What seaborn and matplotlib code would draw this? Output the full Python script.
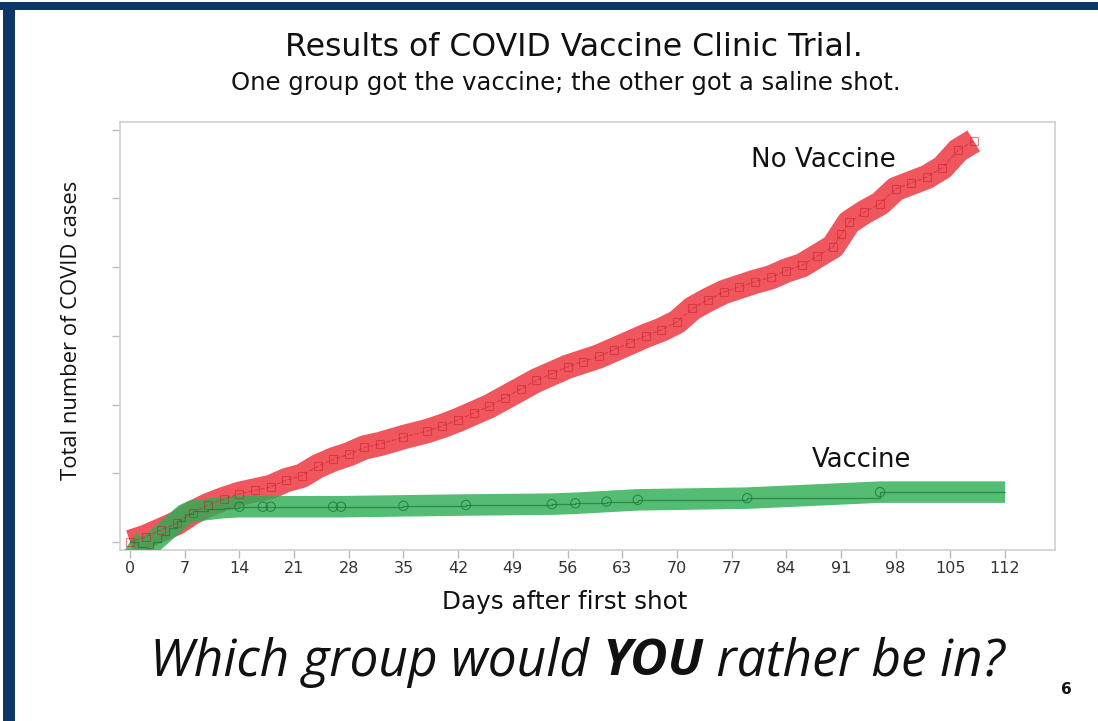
import matplotlib
matplotlib.use("Agg")
import matplotlib.pyplot as plt
import seaborn as sns
import numpy as np
import pandas as pd
from matplotlib.patches import Rectangle

# ---------------- data ----------------
no_vax_days = [0, 2, 4, 6, 8, 10, 12, 14, 16, 18, 20, 22, 24, 26, 28, 30, 32, 35,
               38, 40, 42, 44, 46, 48, 50, 52, 54, 56, 58, 60, 62, 64, 66, 68, 70,
               72, 74, 76, 78, 80, 82, 84, 86, 88, 90, 91, 92, 94, 96, 98, 100,
               102, 104, 106, 108]
no_vax_cases = [0.0, 0.03, 0.07, 0.11, 0.17, 0.215, 0.25, 0.28, 0.30, 0.32, 0.36,
                0.385, 0.44, 0.48, 0.51, 0.55, 0.57, 0.61, 0.645, 0.675, 0.71,
                0.75, 0.79, 0.84, 0.89, 0.94, 0.98, 1.02, 1.05, 1.08, 1.12, 1.16,
                1.20, 1.235, 1.28, 1.36, 1.41, 1.455, 1.485, 1.515, 1.54, 1.58,
                1.61, 1.665, 1.72, 1.79, 1.86, 1.92, 1.97, 2.055, 2.09, 2.125,
                2.18, 2.28, 2.335]

vax_days = [0, 1, 2, 3, 4, 5, 6, 7, 8, 10, 12, 14, 17, 18, 26, 27, 35, 43, 54,
            57, 61, 65, 79, 96, 112]
vax_cases = [0.0, -0.03, -0.035, 0.0, 0.04, 0.08, 0.12, 0.16, 0.18, 0.19, 0.20,
             0.205, 0.205, 0.205, 0.205, 0.205, 0.21, 0.215, 0.22, 0.225, 0.235,
             0.245, 0.255, 0.29, 0.29]

x_ticks = [0, 7, 14, 21, 28, 35, 42, 49, 56, 63, 70, 77, 84, 91, 98, 105, 112]
y_ticks = [0.0, 0.4, 0.8, 1.2, 1.6, 2.0, 2.4]

title = "Results of COVID Vaccine Clinic Trial."
subtitle = "One group got the vaccine; the other got a saline shot."
x_label = "Days after first shot"
y_label = "Total number of COVID cases"
label_no_vax = "No Vaccine"
label_vax = "Vaccine"
question = ["Which group would ", "YOU", " rather be in?"]
page_no = "6"

# ---------------- style ----------------
sns.set_theme(style="white")
plt.rcParams["font.family"] = ["DejaVu Sans"]

W, H, DPI = 1098, 721, 100
fig = plt.figure(figsize=(W / DPI, H / DPI), dpi=DPI)
fig.patch.set_facecolor("white")
renderer = fig.canvas.get_renderer()


def fit_text(x, y, s, width_px, size0=14, **kw):
    t = fig.text(x / W, 1 - y / H, s, fontsize=size0, **kw)
    w = t.get_window_extent(renderer=renderer).width
    t.set_fontsize(size0 * width_px / w)
    return t


# navy slide frame
navy = "#0C3768"
fig.patches.append(Rectangle((0, 1 - 10 / H), 1, 8 / H, transform=fig.transFigure,
                             facecolor=navy, edgecolor="none", zorder=0))
fig.patches.append(Rectangle((3 / W, 0), 12 / W, 1 - 3 / H, transform=fig.transFigure,
                             facecolor=navy, edgecolor="none", zorder=0))

ax = fig.add_axes([120 / W, 1 - 550 / H, (1055 - 120) / W, (550 - 122) / H])

df_nv = pd.DataFrame({"day": no_vax_days, "cases": no_vax_cases})
df_v = pd.DataFrame({"day": vax_days, "cases": vax_cases})

red_band = "#EE3E46"
green_band = "#2FAE55"

# thick highlighter bands
sns.lineplot(data=df_nv, x="day", y="cases", ax=ax, color=red_band, alpha=0.88,
             linewidth=17.5, solid_capstyle="butt", solid_joinstyle="round",
             estimator=None, sort=False, zorder=2)
sns.lineplot(data=df_v, x="day", y="cases", ax=ax, color=green_band, alpha=0.82,
             linewidth=15.5, solid_capstyle="butt", solid_joinstyle="round",
             estimator=None, sort=False, zorder=3)

# thin underlying curves with markers
sns.lineplot(data=df_nv, x="day", y="cases", ax=ax, color="#C8222B", alpha=0.55,
             linewidth=0.8, linestyle="--", marker="s", markersize=6,
             markerfacecolor="none", markeredgecolor="#C8222B",
             markeredgewidth=0.8, estimator=None, sort=False, zorder=4)
sns.lineplot(data=df_v, x="day", y="cases", ax=ax, color="#1F7A3A", alpha=0.75,
             linewidth=0.9, drawstyle="steps-post", estimator=None, sort=False,
             zorder=4)
sns.scatterplot(data=df_v[df_v["day"] >= 14].iloc[:-1], x="day", y="cases", ax=ax,
                marker="o", s=45, facecolor="none", edgecolor="#1F7A3A",
                linewidth=0.8, alpha=0.8, zorder=5)

ax.set_xlim(-1.28, 118.4)
ax.set_ylim(-0.047, 2.445)
ax.set_xticks(x_ticks)
ax.set_xticklabels([str(t) for t in x_ticks], family="DejaVu Sans", fontsize=11.5,
                   color="#333333")
ax.set_yticks(y_ticks)
ax.set_yticklabels([])
ax.tick_params(axis="both", which="both", direction="out", length=6, width=1,
               color="#BBBBBB", bottom=True, left=True, pad=2)
for s in ax.spines.values():
    s.set_color("#D0D0D0")
    s.set_linewidth(1.2)
ax.set_xlabel("")
ax.set_ylabel("")

fit_text(565, 602, x_label, 245, ha="center", va="center", color="#111111")
fit_text(72, 330, y_label, 300, ha="center", va="center", rotation=0,
         color="#111111", family=["Open Sans"]).set_rotation(90)

fit_text(574, 48, title, 580, ha="center", va="center", color="#111111")
fit_text(566, 83, subtitle, 670, ha="center", va="center", color="#111111")

fit_text(823, 160, label_no_vax, 145, ha="center", va="center", color="#111111")
fit_text(861, 460, label_vax, 100, ha="center", va="center", color="#111111")

# bottom question with bold "YOU"
qsize = 27
pieces = []
x0 = 148
for i, part in enumerate(question):
    t = fig.text(x0 / W, 1 - 662 / H, part, ha="left", va="center", fontsize=qsize,
                 style="italic", weight="bold" if i == 1 else "normal",
                 color="#111111", family=["Open Sans"])
    pieces.append(t)
    x0 += t.get_window_extent(renderer=renderer).width
total = x0 - 148
scale = 855 / total
x0 = 150
for t in pieces:
    t.set_fontsize(qsize * scale)
    t.set_x(x0 / W)
    x0 += t.get_window_extent(renderer=renderer).width

fig.text(1066 / W, 1 - 690 / H, page_no, ha="center", va="center", fontsize=11,
         weight="bold", color="#111111")

fig.savefig("out.png", dpi=DPI, facecolor="white")
